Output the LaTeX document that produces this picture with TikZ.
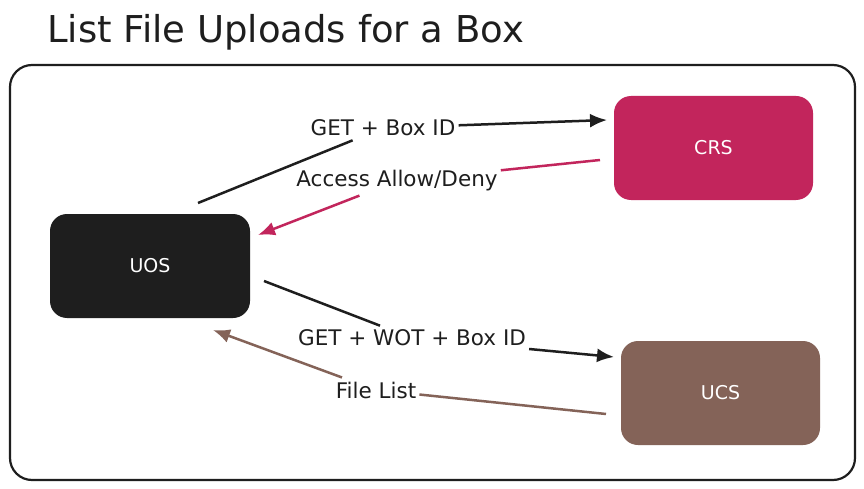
\documentclass[tikz,border=0pt]{standalone}
\usepackage{fontspec}
\setmainfont{DejaVu Sans}
\usetikzlibrary{arrows.meta}
\definecolor{ink}{HTML}{1E1E1E}
\definecolor{crsred}{HTML}{C2255C}
\definecolor{ucsbrown}{HTML}{846358}
\tikzset{
  svc/.style={rounded corners=17pt, minimum width=200pt, minimum height=104pt, inner sep=0pt, text=white, font=\fontsize{19}{22}\selectfont},
  lbl/.style={inner xsep=3pt, inner ysep=4pt, text=ink, font=\fontsize{21.5}{26}\selectfont},
  conn/.style={line width=2.5pt, -{Latex[length=17pt,width=14pt]}},
  seg/.style={line width=2.5pt},
}
\begin{document}
\begin{tikzpicture}[x=1pt,y=-1pt]
\useasboundingbox (0,0) rectangle (864,489);
\fill[white] (0,0) rectangle (864,489);
% title
\node[anchor=base west, inner sep=0pt, text=ink, font=\fontsize{37}{44}\selectfont] (title) at (47,43) {List File Uploads for a Box};
% frame
\draw[ink, line width=2.2pt, rounded corners=22pt] (10,65) rectangle (855,480);
% services
\node[svc, fill=ink] (uos) at (150,266) {UOS};
\node[svc, fill=crsred, minimum width=199pt] (crs) at (713.5,148) {CRS};
\node[svc, fill=ucsbrown, minimum width=199pt] (ucs) at (720.5,393) {UCS};
% labels
\node[lbl] (l1) at (383,128) {GET + Box ID};
\node[lbl] (l2) at (397,181) {Access Allow/Deny};
\node[lbl] (l3) at (412,338) {GET + WOT + Box ID};
\node[lbl] (l4) at (376,390) {File List};
% free ends
\coordinate (s1) at (198,203);
\coordinate (t1) at (607,120);
\coordinate (s2) at (600,160);
\coordinate (t2) at (258,235);
\coordinate (s3) at (264,281);
\coordinate (t3) at (614,357);
\coordinate (s4) at (606,414);
\coordinate (t4) at (213,330);
% connectors
\draw[seg, ink] (s1) -- (l1);
\draw[conn, ink] (l1) -- (t1);
\draw[seg, crsred] (s2) -- (l2);
\draw[conn, crsred] (l2) -- (t2);
\draw[seg, ink] (s3) -- (l3);
\draw[conn, ink] (l3) -- (t3);
\draw[seg, ucsbrown] (s4) -- (l4);
\draw[conn, ucsbrown] (l4) -- (t4);
\end{tikzpicture}
\end{document}
